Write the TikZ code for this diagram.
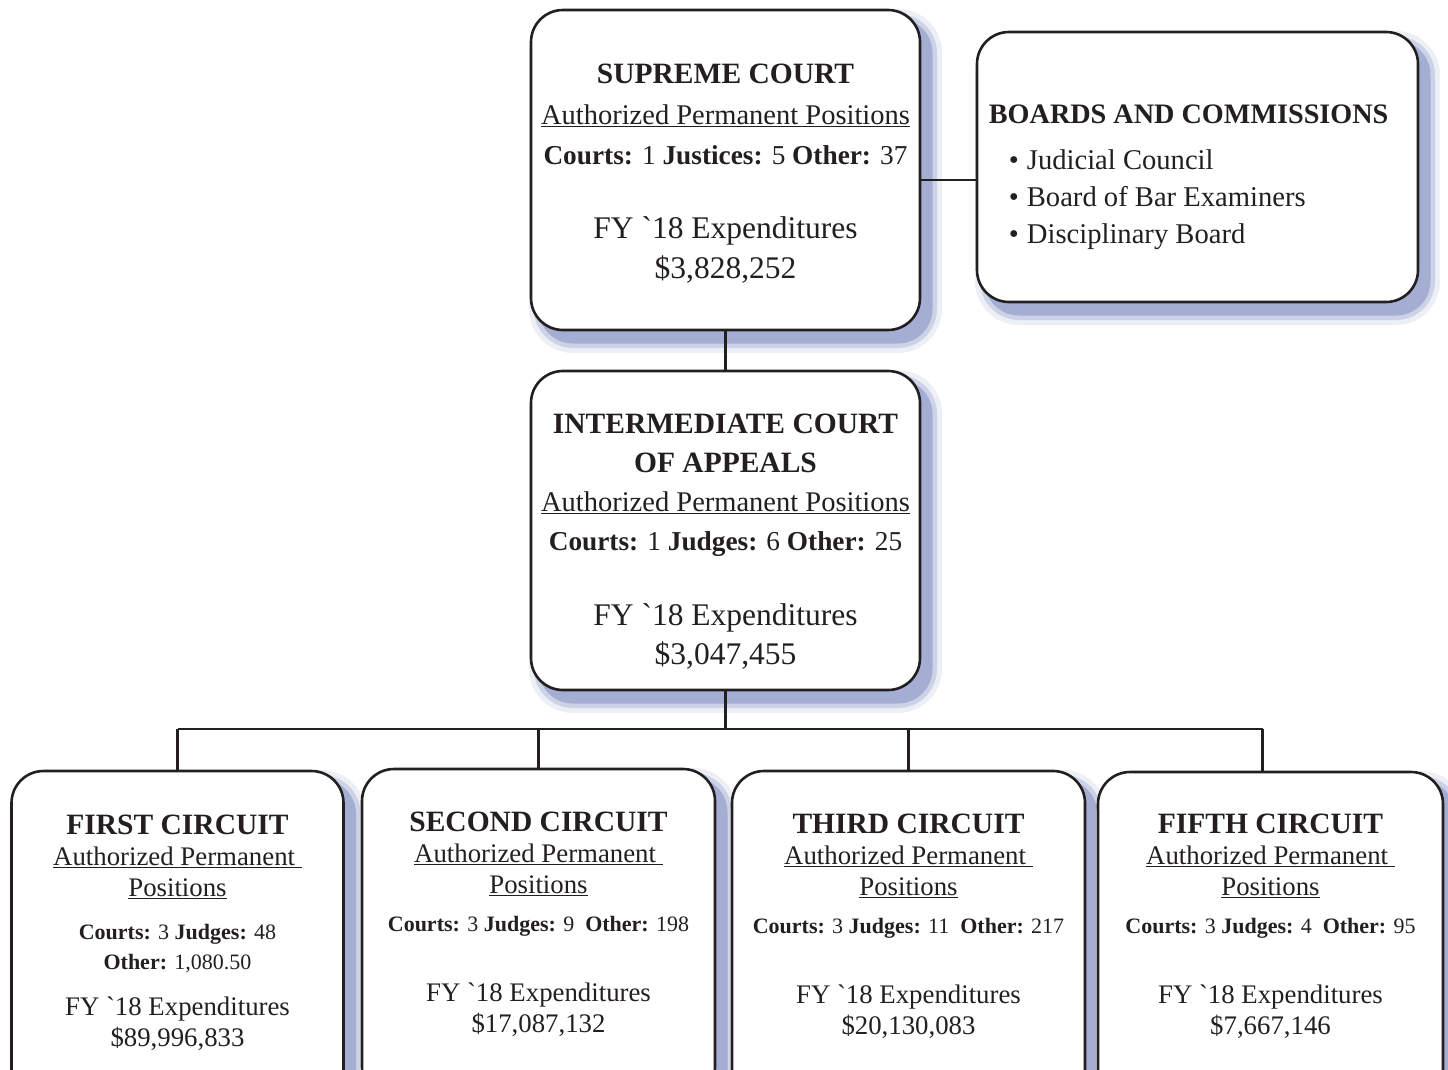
\documentclass[tikz,border=0pt]{standalone}
\usepackage{fontspec}
\setmainfont{Liberation Serif}
\usepackage{xcolor}
\usetikzlibrary{positioning,shadows}
\definecolor{inkline}{HTML}{231F20}
\definecolor{shadowblue}{HTML}{A4AED3}
\newcommand{\undl}[1]{\underline{#1}}
\newcommand{\titlefont}{\fontsize{29.5}{29.5}\selectfont\bfseries}
\newcommand{\bigfont}{\fontsize{31.5}{31.5}\selectfont}
\newcommand{\midfont}{\fontsize{27.3}{27.3}\selectfont}
\newcommand{\smallfont}{\fontsize{22}{22}\selectfont}
\tikzset{
  courtbox/.style={draw=inkline, line width=2.6pt, fill=white, rounded corners=32pt,
    drop shadow={shadow xshift=10pt, shadow yshift=-11pt, opacity=1, fill=shadowblue!20, draw=shadowblue!20, line width=24pt},
    drop shadow={shadow xshift=10pt, shadow yshift=-11pt, opacity=1, fill=shadowblue!55, draw=shadowblue!55, line width=14pt},
    drop shadow={shadow xshift=10pt, shadow yshift=-11pt, opacity=1, fill=shadowblue, draw=shadowblue, line width=5pt}},
  txt/.style={inner sep=0pt, align=center, text=inkline, anchor=north},
  conn/.style={draw=inkline, line width=2.6pt}
}

\begin{document}
\begin{tikzpicture}[x=1pt, y=-1pt]
    \useasboundingbox (0,0) rectangle (1448,1069);

    % Kaesten.
    \node[courtbox, minimum width=389pt, minimum height=320pt] (supreme) at (725.5,170) {};
    \node[courtbox, minimum width=441pt, minimum height=270pt] (boards) at (1197.5,167) {};
    \node[courtbox, minimum width=389pt, minimum height=319pt] (inter) at (725.5,530.5) {};
    \node[courtbox, minimum width=332pt, minimum height=330pt] (first) at (177.5,936) {};
    \node[courtbox, minimum width=353pt, minimum height=330pt] (second) at (538.5,934) {};
    \node[courtbox, minimum width=353pt, minimum height=330pt] (third) at (908.5,936) {};
    \node[courtbox, minimum width=345pt, minimum height=330pt] (fifth) at (1270.5,937) {};

    % Verbindungen.
    \coordinate (bus) at (726,729);
    \draw[conn] ([yshift=-10pt]supreme.east) -- ([yshift=-10pt]supreme.east -| boards.west);
    \draw[conn] (supreme.south) -- (inter.north);
    \draw[conn] (inter.south) -- (inter.south |- bus);
    \draw[conn] (first.north |- bus) -- ([xshift=-8pt]fifth.north |- bus);
    \foreach \c/\dx in {first/0,second/0,third/0,fifth/-8}
    {
        \draw[conn] ([xshift=\dx pt]\c.north |- bus) -- ([xshift=\dx pt]\c.north);
    }

    % Texte oben.
    \node[txt, below=55.5pt of supreme.north, font=\fontsize{28.5}{40.5}\selectfont] (supremetxt)
        {{\titlefont SUPREME COURT}\\
         \undl{Authorized Permanent Positions}\\
         {\midfont\textbf{Courts:} 1 \textbf{Justices:} 5 \textbf{Other:} 37}\\[33pt]
         {\bigfont FY \textasciigrave18 Expenditures}\\
         {\bigfont \$3,828,252}};
    \node[txt, align=left, anchor=north west, font=\fontsize{28.6}{37}\selectfont] (boardstxt)
        at ([xshift=13pt, yshift=-73.5pt]boards.north west)
        {{\fontsize{28.2}{28}\selectfont\bfseries BOARDS AND COMMISSIONS}\\[9pt]
         \hspace*{20pt}\textbullet\hspace{8pt}Judicial Council\\
         \hspace*{20pt}\textbullet\hspace{8pt}Board of Bar Examiners\\
         \hspace*{20pt}\textbullet\hspace{8pt}Disciplinary Board};
    \node[txt, below=44.5pt of inter.north, font=\fontsize{28.5}{39}\selectfont] (intertxt)
        {{\titlefont INTERMEDIATE COURT}\\
         {\titlefont OF APPEALS}\\
         \undl{Authorized Permanent Positions}\\
         {\midfont\textbf{Courts:} 1 \textbf{Judges:} 6 \textbf{Other:} 25}\\[36pt]
         {\bigfont FY \textasciigrave18 Expenditures}\\
         {\bigfont \$3,047,455}};

    % Texte unten.
    \node[txt, below=45pt of first.north, font=\fontsize{26.8}{31}\selectfont] (firsttxt)
        {{\titlefont FIRST CIRCUIT}\\
         \undl{Authorized Permanent\ }\\
         \undl{Positions}\\[12pt]
         {\smallfont\textbf{Courts:} 3 \textbf{Judges:} 48}\\[-1pt]
         {\smallfont\textbf{Other:} 1,080.50}\\[15pt]
         FY \textasciigrave18 Expenditures\\
         \$89,996,833};
    \node[txt, below=44.5pt of second.north, font=\fontsize{26.8}{31}\selectfont] (secondtxt)
        {{\titlefont SECOND CIRCUIT}\\
         \undl{Authorized Permanent\ }\\
         \undl{Positions}\\[7pt]
         {\smallfont\textbf{Courts:} 3 \textbf{Judges:} 9\ \ \textbf{Other:} 198}\\[39pt]
         FY \textasciigrave18 Expenditures\\
         \$17,087,132};
    \node[txt, below=44.5pt of third.north, font=\fontsize{26.8}{31}\selectfont] (thirdtxt)
        {{\titlefont THIRD CIRCUIT}\\
         \undl{Authorized Permanent\ }\\
         \undl{Positions}\\[7pt]
         {\smallfont\textbf{Courts:} 3 \textbf{Judges:} 11\ \ \textbf{Other:} 217}\\[39pt]
         FY \textasciigrave18 Expenditures\\
         \$20,130,083};
    \node[txt, below=43.5pt of fifth.north, font=\fontsize{26.8}{31}\selectfont] (fifthtxt)
        {{\titlefont FIFTH CIRCUIT}\\
         \undl{Authorized Permanent\ }\\
         \undl{Positions}\\[7pt]
         {\smallfont\textbf{Courts:} 3 \textbf{Judges:} 4\ \ \textbf{Other:} 95}\\[39pt]
         FY \textasciigrave18 Expenditures\\
         \$7,667,146};
\end{tikzpicture}
\end{document}
